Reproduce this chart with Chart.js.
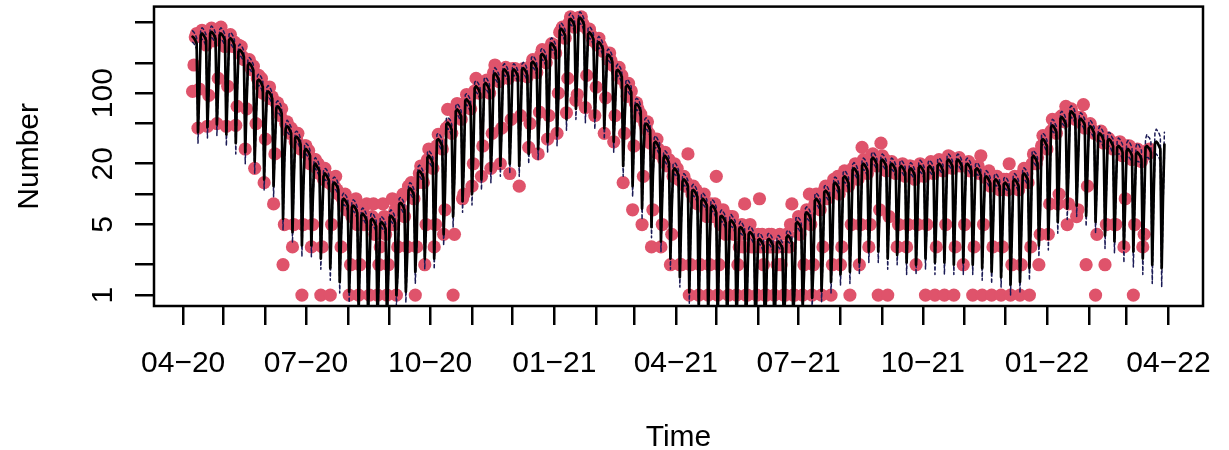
<!DOCTYPE html>
<html>
<head>
<meta charset="utf-8">
<script src="https://cdn.jsdelivr.net/npm/chart.js@4.4.1/dist/chart.umd.min.js"></script>
<style>
  html, body { margin: 0; padding: 0; background: #fff; }
  canvas { display: block; }
</style>
</head>
<body>
<canvas id="chart" width="1229" height="450"></canvas>
<script>
// Daily series, one row per week (Wed..Tue), starting on this date
const startDate = '2020-04-08';

// Reported daily counts (null = nothing reported / not yet observed)
const observed = [
  104,190,360,390,45,110,400,
  420,350,380,300,47,95,410,
  440,400,330,360,50,140,390,
  450,360,380,290,47,117,350,
  380,330,290,320,48,74,300,
  250,290,230,215,28,70,210,
  215,180,170,185,18,50,140,
  150,120,140,100,13,35,95,
  95,115,88,92,8,25,80,
  80,65,60,70,2,5,50,
  52,42,40,45,3,5,33,
  35,40,30,28,1,5,30,
  30,25,27,20,3,5,22,
  22,18,20,16,1,3,14,
  18,14,15,13,1,5,12,
  12,15,11,10,null,3,9,
  8,10,7,8,1,2,6,
  8,6,9,5,1,2,7,
  7,5,6,8,null,1,5,
  6,8,4,5,1,2,3,
  5,8,6,4,1,2,5,
  6,9,5,7,1,3,8,
  9,7,10,6,null,3,12,
  10,13,12,9,1,3,13,
  16,19,14,13,2,5,22,
  28,20,25,18,3,5,30,
  39,32,30,28,4,7,45,
  69,48,45,40,1,4,60,
  79,62,70,55,9,10,80,
  97,80,90,70,12,20,105,
  140,110,100,112,15,30,115,
  120,135,110,100,18,40,160,
  190,150,140,130,20,45,170,
  160,180,150,140,16,55,175,
  157,175,165,150,12,60,160,
  175,160,170,145,29,50,190,
  215,190,200,160,25,65,240,
  270,230,240,200,35,60,280,
  310,290,300,250,40,100,400,
  420,450,380,350,64,140,500,
  570,500,520,450,85,97,560,
  560,570,490,460,72,150,420,
  430,380,350,330,60,115,300,
  350,300,280,260,40,90,250,
  215,250,210,190,33,60,175,
  165,180,140,150,13,40,120,
  93,125,100,105,7,30,80,
  80,70,59,62,5,15,50,
  45,52,40,32,3,7,35,
  26,35,28,25,3,5,22,
  26,20,19,22,2,4,15,
  20,16,18,14,2,2,13,
  15,12,13,25,1,2,10,
  12,9,11,8,1,2,9,
  8,10,7,6,1,2,8,
  7,6,8,15,1,2,5,
  6,7,5,4,null,1,6,
  5,6,4,5,1,2,3,
  4,5,3,8,1,1,4,
  5,3,4,3,null,1,4,
  9,3,4,2,1,1,3,
  4,3,4,3,1,null,2,
  3,4,2,3,1,1,4,
  4,3,5,8,1,1,5,
  5,6,4,5,1,2,6,
  7,6,10,5,1,2,8,
  10,8,9,7,1,3,11,
  12,9,11,10,1,2,14,
  14,12,15,10,2,3,13,
  17,13,15,12,1,5,18,
  16,20,18,14,2,5,29,
  22,18,21,16,3,5,24,
  25,21,23,19,1,7,32,
  24,20,22,17,1,6,20,
  21,18,19,16,3,5,17,
  18,20,17,15,3,5,19,
  19,16,18,14,2,5,17,
  20,17,19,15,1,5,18,
  18,21,17,16,1,3,20,
  22,19,20,17,1,5,21,
  24,20,23,18,1,3,22,
  21,23,19,20,2,5,20,
  19,21,17,18,1,3,18,
  17,19,16,24,1,5,15,
  16,14,17,12,1,3,15,
  13,15,12,11,1,3,14,
  12,14,11,20,1,2,13,
  15,12,14,11,1,2,16,
  18,14,16,13,1,3,20,
  25,22,20,23,2,4,30,
  38,32,35,28,4,8,42,
  55,45,50,40,8,10,58,
  60,55,52,74,5,8,65,
  70,62,58,55,6,7,57,
  58,50,77,45,2,12,48,
  50,44,42,40,1,4,40,
  38,42,35,32,2,5,36,
  35,33,30,28,5,5,32,
  28,33,27,24,3,9,30,
  26,30,25,22,1,5,27,
  28,24,23,21,3,4,25,
  27,25,28,null,null,null,null,
  null,null,null,null,null,null,null
];

// Model fit (solid line)
const fitted = [
  363,352,334,309,41,109,374,
  390,378,359,332,46,117,389,
  405,393,373,344,49,122,374,
  390,378,359,332,39,117,336,
  350,340,322,298,32,105,257,
  268,260,247,228,26,80,190,
  198,192,182,168,21,59,131,
  136,132,125,116,14,41,100,
  104,101,96,88,12,31,71,
  74,72,68,63,5.7,22,45,
  47,46,43,40,4.2,14,36,
  37,36,34,31,3.1,11,27,
  28,27,26,24,3.1,8.4,19,
  20,19,18,17,2.3,6,15,
  16,15.5,14.7,13.6,1.85,4.8,12.5,
  13,12.6,12,11,1.35,3.9,8.6,
  9,8.7,8.3,7.7,1.08,2.7,7.4,
  7.7,7.5,7.1,6.5,0.7,2.3,6.1,
  6.4,6.2,5.9,5.4,0.6,1.9,5.5,
  5.7,5.5,5.2,4.8,0.55,1.7,5.1,
  5.3,5.1,4.9,4.5,0.6,1.6,5.9,
  6.1,5.9,5.6,5.2,1,1.8,7.9,
  8.2,8,7.5,7,1.08,2.5,10.9,
  11.4,11.1,10.5,9.7,1.7,3.4,16.3,
  17,16.5,15.6,14.5,2.3,5.1,23,
  24,23,22,20,2.3,7.2,34,
  35,34,32,30,4,10.5,49,
  51,49,47,43,6,15,66,
  69,67,63,59,8.5,21,84,
  87,84,80,74,10,26,112,
  117,113,108,99,14,35,121,
  126,122,116,107,17,38,151,
  157,152,144,133,19,47,165,
  172,167,158,146,20,52,165,
  172,167,158,146,19,52,170,
  177,172,163,150,25,53,197,
  205,199,189,174,28,62,235,
  245,238,225,208,33,74,298,
  310,301,285,264,38,93,418,
  435,422,400,370,55,131,523,
  545,529,501,463,70,164,538,
  560,543,515,476,65,168,384,
  400,388,368,340,57,120,307,
  320,310,294,272,45,96,230,
  240,233,221,204,33,72,163,
  170,165,156,145,19,51,115,
  120,116,110,102,12,36,75,
  78,76,72,66,7.2,23,48,
  50,49,46,43,4.7,15,32,
  33,32,30,28,3.4,9.9,23,
  24,23,22,20,2.3,7.2,17,
  18,17.5,16.6,15.3,1.5,5.4,13.4,
  14,13.6,12.9,11.9,1.07,4.2,10.6,
  11,10.7,10.1,9.4,0.75,3.3,8.6,
  9,8.7,8.3,7.7,0.6,2.7,7.4,
  7.7,7.5,7.1,6.5,0.55,2.3,5.9,
  6.1,5.9,5.6,5.2,0.5,1.8,5.3,
  5.5,5.3,5.1,4.7,0.5,1.7,4.5,
  4.7,4.6,4.3,4,0.45,1.4,4,
  4.2,4.1,3.9,3.6,0.45,1.3,3.5,
  3.6,3.5,3.3,3.1,0.45,1.1,3.5,
  3.6,3.5,3.3,3.1,0.45,1.1,3.3,
  3.4,3.3,3.1,2.9,0.5,1,3.7,
  3.9,3.8,3.6,3.3,0.6,1.2,5.1,
  5.3,5.1,4.9,4.5,0.75,1.6,6.3,
  6.6,6.4,6.1,5.6,0.94,2,8.6,
  9,8.7,8.3,7.7,1.1,2.7,10.4,
  10.8,10.5,9.9,9.2,1.35,3.2,12.5,
  13,12.6,12,11,1.6,3.9,14.4,
  15,14.6,13.8,12.8,1.7,4.5,17.3,
  18,17.5,16.6,15.3,2.1,5.4,19.2,
  20,19.4,18.4,17,2.7,6,22,
  23,22.3,21.2,19.6,2.7,6.9,21.1,
  22,21.3,20.2,18.7,2.3,6.6,19.2,
  20,19.4,18.4,17,2.5,6,18.2,
  19,18.4,17.5,16.2,2.1,5.7,17.3,
  18,17.5,16.6,15.3,2,5.4,18.2,
  19,18.4,17.5,16.2,2.3,5.7,18.2,
  19,18.4,17.5,16.2,2.1,5.7,19.2,
  20,19.4,18.4,17,2.1,6,21.1,
  22,21.3,20.2,18.7,2,6.6,21.1,
  22,21.3,20.2,18.7,2.1,6.6,19.2,
  20,19.4,18.4,17,2,6,17.3,
  18,17.5,16.6,15.3,1.85,5.4,14.4,
  15,14.6,13.8,12.8,1.7,4.5,13.4,
  14,13.6,12.9,11.9,1.5,4.2,12.5,
  13,12.6,12,11,1.27,3.9,13.4,
  14,13.6,12.9,11.9,1.35,4.2,15.4,
  16,15.5,14.7,13.6,1.85,4.8,23,
  24,23,22,20,3.1,7.2,34,
  35,34,32,30,3.6,10.5,46,
  48,47,44,41,5.3,14.4,56,
  58,56,53,49,7.2,17.4,63,
  66,64,61,56,7.7,20,54,
  56,54,52,48,6.1,16.8,45,
  47,46,43,40,5.3,14,38,
  40,39,37,34,3.9,12,34,
  35,34,32,30,3.4,10.5,29,
  30,29,28,26,2.9,9,27,
  28,27,26,24,2.7,8.4,25,
  26,25,24,22,2.3,7.8,29,
  30,29,28,26,2,9,32,
  33,32,30,28,1.85,10,31
];

// Lower interval bound (dashed)
const lower = [
  319,310,294,272,32,96,329,
  343,333,316,292,36,103,342,
  356,346,328,303,38,107,329,
  343,333,316,292,30,103,296,
  308,299,283,262,25,92,226,
  236,229,217,201,20,70,167,
  174,169,160,148,16,52,115,
  120,116,110,102,11,36,88,
  92,89,84,77,9.4,27,62,
  65,63,60,55,4.4,19,40,
  41,40,38,35,3.3,12,32,
  33,32,30,27,2.4,9.7,24,
  25,24,23,21,2.4,7.4,17,
  18,17,16,15,1.8,5.3,13,
  14,13.6,12.9,12,1.4,4.2,11,
  11.4,11.1,10.6,9.7,1.05,3.4,7.6,
  7.9,7.7,7.3,6.8,0.84,2.4,6.5,
  6.8,6.6,6.2,5.7,0.55,2,5.4,
  5.6,5.5,5.2,4.8,0.47,1.7,4.8,
  5,4.8,4.6,4.2,0.43,1.5,4.5,
  4.7,4.5,4.3,4,0.47,1.4,5.2,
  5.4,5.2,4.9,4.6,0.78,1.6,7,
  7.2,7,6.6,6.2,0.84,2.2,9.6,
  10,9.8,9.2,8.5,1.3,3,14.3,
  15,14.5,13.7,12.8,1.8,4.5,20,
  21,20,19,18,1.8,6.3,30,
  31,30,28,26,3.1,9.2,43,
  45,43,41,38,4.7,13,58,
  61,59,55,52,6.6,18,74,
  77,74,70,65,7.8,23,99,
  103,99,95,87,11,31,106,
  111,107,102,94,13,33,133,
  138,134,127,117,15,41,145,
  151,147,139,128,16,46,145,
  151,147,139,128,15,46,150,
  156,151,143,132,20,47,173,
  180,175,166,153,22,55,207,
  216,209,198,183,26,65,262,
  273,265,251,232,30,82,368,
  383,371,352,326,43,115,460,
  480,466,441,407,55,144,473,
  493,478,453,419,51,148,338,
  352,341,324,299,44,106,270,
  282,273,259,239,35,84,202,
  211,205,194,180,26,63,143,
  150,145,137,128,15,45,101,
  106,102,97,90,9.4,32,66,
  69,67,63,58,5.6,20,42,
  44,43,40,38,3.7,13,28,
  29,28,26,25,2.7,8.7,20,
  21,20,19,18,1.8,6.3,15,
  15.8,15.4,14.6,13.5,1.2,4.8,11.8,
  12.3,12,11.4,10.5,0.83,3.7,9.3,
  9.7,9.4,8.9,8.3,0.59,2.9,7.6,
  7.9,7.7,7.3,6.8,0.47,2.4,6.5,
  6.8,6.6,6.2,5.7,0.43,2,5.2,
  5.4,5.2,4.9,4.6,0.39,1.6,4.7,
  4.8,4.7,4.5,4.1,0.39,1.5,4,
  4.1,4,3.8,3.5,0.35,1.2,3.5,
  3.7,3.6,3.4,3.2,0.35,1.1,3.1,
  3.2,3.1,2.9,2.7,0.35,0.97,3.1,
  3.2,3.1,2.9,2.7,0.35,0.97,2.9,
  3,2.9,2.7,2.6,0.39,0.88,3.3,
  3.4,3.3,3.2,2.9,0.47,1.05,4.5,
  4.7,4.5,4.3,4,0.59,1.4,5.5,
  5.8,5.6,5.4,4.9,0.73,1.8,7.6,
  7.9,7.7,7.3,6.8,0.86,2.4,9.2,
  9.5,9.2,8.7,8.1,1.05,2.8,11,
  11.4,11.1,10.6,9.7,1.25,3.4,12.7,
  13.2,12.8,12.1,11.3,1.3,4,15.2,
  15.8,15.4,14.6,13.5,1.6,4.8,16.9,
  17.6,17.1,16.2,15,2.1,5.3,19.4,
  20.2,19.6,18.7,17.2,2.1,6.1,18.6,
  19.4,18.7,17.8,16.5,1.8,5.8,16.9,
  17.6,17.1,16.2,15,2,5.3,16,
  16.7,16.2,15.4,14.3,1.6,5,15.2,
  15.8,15.4,14.6,13.5,1.6,4.8,16,
  16.7,16.2,15.4,14.3,1.8,5,16,
  16.7,16.2,15.4,14.3,1.6,5,16.9,
  17.6,17.1,16.2,15,1.6,5.3,18.6,
  19.4,18.7,17.8,16.5,1.6,5.8,18.6,
  19.4,18.7,17.8,16.5,1.6,5.8,16.9,
  17.6,17.1,16.2,15,1.6,5.3,15.2,
  15.8,15.4,14.6,13.5,1.4,4.8,12.7,
  13.2,12.8,12.1,11.3,1.3,4,11.8,
  12.3,12,11.4,10.5,1.2,3.7,11,
  11.4,11.1,10.6,9.7,1,3.4,11.8,
  12.3,12,11.4,10.5,1.05,3.7,13.6,
  14.1,13.6,12.9,12,1.4,4.2,20,
  21,20,19,18,2.4,6.3,30,
  31,30,28,26,2.8,9.2,40,
  42,41,39,36,4.1,12.7,49,
  51,49,47,43,5.6,15.3,55,
  58,56,54,49,6,17.4,48,
  49,48,46,42,4.8,14.8,40,
  41,40,38,35,4.1,12.3,33,
  34,33,31,29,2.9,10,29,
  30,29,27,25,2.6,8.9,25,
  25,25,24,22,2.1,7.6,23,
  24,23,22,20,1.9,7.1,21,
  21,21,20,18,1.6,6.4,23,
  23,23,22,20,1.3,7,25,
  25,24,23,21,1.2,7.6,23
];

// Upper interval bound (dashed)
const upper = [
  414,401,381,352,52,124,426,
  445,431,409,378,59,133,443,
  462,448,425,392,63,139,426,
  445,431,409,378,50,133,383,
  399,388,367,340,41,120,293,
  306,296,282,260,33,91,217,
  226,219,207,192,27,67,149,
  155,150,143,132,18,47,114,
  119,115,109,100,15,35,81,
  84,82,78,72,7.3,25,51,
  54,52,49,46,5.4,16,41,
  42,41,39,35,4,13,31,
  32,31,30,27,4,9.6,22,
  23,22,21,19,2.9,6.8,17,
  18,17.7,16.8,15.5,2.4,5.5,14.3,
  14.8,14.4,13.7,12.5,1.7,4.4,9.8,
  10.3,9.9,9.5,8.8,1.38,3.1,8.4,
  8.8,8.6,8.1,7.4,0.9,2.6,7,
  7.3,7.1,6.7,6.2,0.77,2.2,6.3,
  6.5,6.3,5.9,5.5,0.7,1.9,5.8,
  6,5.8,5.6,5.1,0.77,1.8,6.7,
  7,6.7,6.4,5.9,1.28,2.1,9,
  9.3,9.1,8.6,8,1.38,2.8,12.4,
  13,12.7,12,11.1,2.2,3.9,18.6,
  19.4,18.8,17.8,16.5,2.9,5.8,26,
  27,26,25,23,2.9,8.2,39,
  40,39,37,34,5.1,12,56,
  58,56,54,49,7.7,17,75,
  79,76,72,67,11,24,96,
  99,96,91,84,13,30,128,
  133,129,123,113,18,40,138,
  144,139,132,122,22,43,172,
  179,173,164,152,24,54,188,
  196,190,180,166,26,59,188,
  196,190,180,166,24,59,194,
  202,196,186,171,32,60,225,
  234,227,215,198,36,71,268,
  279,271,257,237,42,84,340,
  353,343,325,301,49,106,477,
  496,481,456,422,70,149,596,
  621,603,571,528,90,187,613,
  638,619,587,543,83,192,438,
  456,442,420,388,73,137,350,
  365,353,335,310,58,109,262,
  274,266,252,233,42,82,186,
  194,188,178,165,24,58,131,
  137,132,125,116,15,41,86,
  89,87,82,75,9.2,26,55,
  57,56,52,49,6,17,36,
  38,36,34,32,4.4,11,26,
  27,26,25,23,2.9,8.2,19.7,
  20.5,20,18.9,17.4,1.9,6.2,15.3,
  16,15.5,14.7,13.6,1.37,4.8,12.1,
  12.5,12.2,11.5,10.7,0.96,3.8,9.8,
  10.3,9.9,9.5,8.8,0.77,3.1,8.4,
  8.8,8.6,8.1,7.4,0.7,2.6,6.7,
  7,6.7,6.4,5.9,0.64,2.1,6,
  6.3,6,5.8,5.4,0.64,1.9,5.1,
  5.4,5.2,4.9,4.6,0.58,1.6,4.6,
  4.8,4.7,4.4,4.1,0.58,1.5,4,
  4.1,4,3.8,3.5,0.58,1.25,4,
  4.1,4,3.8,3.5,0.58,1.25,3.8,
  3.9,3.8,3.5,3.3,0.64,1.14,4.2,
  4.4,4.3,4.1,3.8,0.77,1.4,5.8,
  6,5.8,5.6,5.1,0.96,1.8,7.2,
  7.5,7.3,7,6.4,1.2,2.3,9.8,
  10.3,9.9,9.5,8.8,1.4,3.1,11.9,
  12.3,12,11.3,10.5,1.7,3.6,14.3,
  14.8,14.4,13.7,12.5,2,4.4,16.4,
  17.1,16.6,15.7,14.6,2.2,5.1,19.7,
  20.5,20,18.9,17.4,2.7,6.2,21.9,
  22.8,22.1,21,19.4,3.5,6.8,25,
  26.2,25.4,24.2,22.3,3.5,7.9,24,
  25,24.3,23,21.3,2.9,7.5,21.9,
  22.8,22.1,21,19.4,3.2,6.8,20.7,
  21.7,21,20,18.5,2.7,6.5,19.7,
  20.5,20,18.9,17.4,2.6,6.2,20.7,
  21.7,21,20,18.5,2.9,6.5,20.7,
  21.7,21,20,18.5,2.7,6.5,21.9,
  22.8,22.1,21,19.4,2.7,6.8,24,
  25,24.3,23,21.3,2.6,7.5,24,
  25,24.3,23,21.3,2.7,7.5,21.9,
  22.8,22.1,21,19.4,2.6,6.8,19.7,
  20.5,20,18.9,17.4,2.4,6.2,16.4,
  17.1,16.6,15.7,14.6,2.2,5.1,15.3,
  16,15.5,14.7,13.6,1.9,4.8,14.3,
  14.8,14.4,13.7,12.5,1.6,4.4,15.3,
  16,15.5,14.7,13.6,1.7,4.8,17.6,
  18.2,17.7,16.8,15.5,2.4,5.5,26,
  27,26,25,23,4,8.2,39,
  40,39,37,34,4.6,12,52,
  55,54,50,47,6.8,16.4,64,
  66,64,61,56,9.2,20,72,
  75,73,70,64,9.9,23,62,
  64,62,59,55,7.8,19,51,
  54,52,49,46,6.8,16,43,
  47,45,43,40,5.1,14,40,
  41,40,37,35,4.4,12,34,
  36,35,33,31,3.9,10.7,32,
  34,33,31,29,3.7,10,30,
  32,31,29,27,3.3,9.5,35,
  39,37,36,33,3,11.5,41,
  44,42,40,37,2.8,13,41
];

// Month ticks on the time axis and their labels (every third month labelled)
const monthTicks = [
  '2020-04-01','2020-05-01','2020-06-01','2020-07-01','2020-08-01','2020-09-01',
  '2020-10-01','2020-11-01','2020-12-01','2021-01-01','2021-02-01','2021-03-01',
  '2021-04-01','2021-05-01','2021-06-01','2021-07-01','2021-08-01','2021-09-01',
  '2021-10-01','2021-11-01','2021-12-01','2022-01-01','2022-02-01','2022-03-01',
  '2022-04-01'
];
const monthLabels = [
  '04\u221220','','','07\u221220','','','10\u221220','','','01\u221221','','',
  '04\u221221','','','07\u221221','','','10\u221221','','','01\u221222','','',
  '04\u221222'
];

// Log-axis ticks and the labels printed beside them
const yTicks = [1, 2, 5, 10, 20, 50, 100, 200, 500];
const yTickLabels = ['1', '', '5', '', '20', '', '100', '', ''];

// Time is measured in days since 1 April 2020
const DAY_MS = 86400000;
const ORIGIN = Date.UTC(2020, 3, 1);
function dayOf(s) {
  const [y, m, d] = s.split('-').map(Number);
  return (Date.UTC(y, m - 1, d) - ORIGIN) / DAY_MS;
}
const x0 = dayOf(startDate);
const asPoints = arr => arr.map((v, i) => ({ x: x0 + i, y: v }));

const FONT = '30px "Liberation Sans", Arial, Helvetica, sans-serif';
const RED = '#DF536B';
const NAVY = '#1a1a55';

// Box, tick labels and axis titles
const framePlugin = {
  id: 'frame',
  afterDraw(chart) {
    const { ctx, chartArea: a, scales } = chart;
    const xs = scales.x, ys = scales.y;
    ctx.save();
    ctx.strokeStyle = '#000';
    ctx.lineWidth = 2.5;
    ctx.strokeRect(a.left, a.top, a.right - a.left, a.bottom - a.top);

    ctx.fillStyle = '#000';
    ctx.font = FONT;
    ctx.textBaseline = 'alphabetic';
    ctx.textAlign = 'center';
    monthTicks.forEach((m, i) => {
      if (monthLabels[i]) ctx.fillText(monthLabels[i], xs.getPixelForValue(dayOf(m)), 372);
    });
    ctx.fillText('Time', (a.left + a.right) / 2, 446);

    yTicks.forEach((v, i) => {
      if (!yTickLabels[i]) return;
      ctx.save();
      ctx.translate(112, ys.getPixelForValue(v));
      ctx.rotate(-Math.PI / 2);
      ctx.fillText(yTickLabels[i], 0, 0);
      ctx.restore();
    });

    ctx.translate(38, (a.top + a.bottom) / 2);
    ctx.rotate(-Math.PI / 2);
    ctx.fillText('Number', 0, 0);
    ctx.restore();
  }
};

const lineCommon = {
  pointRadius: 0,
  tension: 0,
  borderJoinStyle: 'round',
  borderCapStyle: 'round',
  clip: 0,
  fill: false
};

new Chart(document.getElementById('chart'), {
  type: 'line',
  data: {
    datasets: [
      Object.assign({ label: 'fit', data: asPoints(fitted), borderColor: '#000', borderWidth: 2.7, order: 0 }, lineCommon),
      Object.assign({ label: 'lower', data: asPoints(lower), borderColor: NAVY, borderWidth: 1.5, borderDash: [3, 3], order: 1 }, lineCommon),
      Object.assign({ label: 'upper', data: asPoints(upper), borderColor: NAVY, borderWidth: 1.5, borderDash: [3, 3], order: 1 }, lineCommon),
      {
        label: 'observed',
        data: asPoints(observed),
        showLine: false,
        pointRadius: 6.6,
        pointHoverRadius: 6.6,
        pointBorderWidth: 0,
        pointBackgroundColor: RED,
        pointBorderColor: RED,
        order: 2
      }
    ]
  },
  options: {
    responsive: false,
    devicePixelRatio: 1,
    animation: false,
    events: [],
    layout: { padding: { left: 0, right: 26, top: 5, bottom: 0 } },
    plugins: { legend: { display: false }, tooltip: { enabled: false } },
    scales: {
      x: {
        type: 'linear',
        min: -21.6,
        max: 755.6,
        afterFit(s) { s.height = 144; },
        afterBuildTicks(s) { s.ticks = monthTicks.map(m => ({ value: dayOf(m) })); },
        grid: { drawOnChartArea: false, drawTicks: true, tickLength: 19, tickColor: '#000', tickWidth: 2.5, color: '#000', lineWidth: 2.5 },
        border: { display: false },
        ticks: { display: false, autoSkip: false }
      },
      y: {
        type: 'logarithmic',
        min: 0.78,
        max: 720,
        afterFit(s) { s.width = 154; },
        afterBuildTicks(s) { s.ticks = yTicks.map(v => ({ value: v })); },
        grid: { drawOnChartArea: false, drawTicks: true, tickLength: 19, tickColor: '#000', tickWidth: 2.5, color: '#000', lineWidth: 2.5 },
        border: { display: false },
        ticks: { display: false, autoSkip: false }
      }
    }
  },
  plugins: [framePlugin]
});
</script>
</body>
</html>
